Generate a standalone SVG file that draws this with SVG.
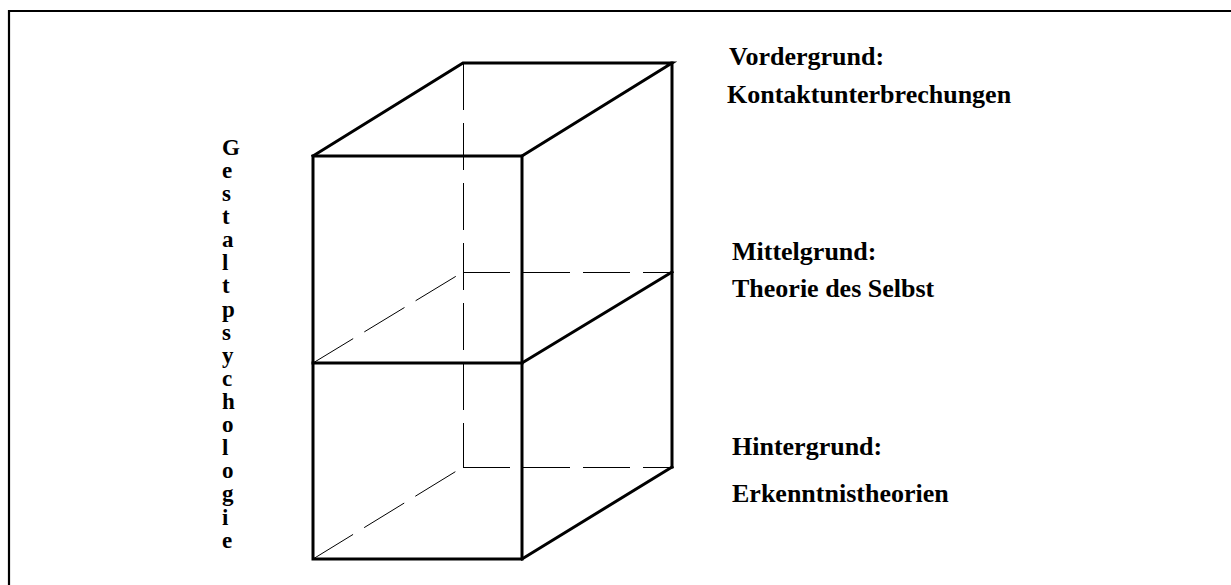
<svg xmlns="http://www.w3.org/2000/svg" width="1231" height="585" viewBox="0 0 1231 585">
<style>
.frame{fill:none;stroke:#000;stroke-width:2.2}
.solid{fill:none;stroke:#000;stroke-width:3;stroke-linejoin:miter;stroke-linecap:square}
.dash{fill:none;stroke:#000;stroke-width:1;stroke-dasharray:47 13}
.t{font-family:"Liberation Serif","Times New Roman",serif;font-weight:bold;font-size:26px;fill:#000}
.v{font-family:"Liberation Serif","Times New Roman",serif;font-weight:bold;font-size:23px;fill:#000}
</style>
<rect width="1231" height="585" fill="#fff"/>
<path class="frame" d="M9,590 L9,11 L1240,11"/>
<g id="connectors">
<line class="dash" x1="463.5" y1="63" x2="463.5" y2="467"/>
<line class="dash" x1="463" y1="272.5" x2="672" y2="272.5"/>
<line class="dash" x1="463" y1="467.5" x2="672" y2="467.5"/>
<line class="dash" x1="313" y1="363" x2="463" y2="272"/>
<line class="dash" x1="313" y1="559" x2="463" y2="467"/>
</g>
<g id="cube">
<rect class="solid" x="313" y="156" width="209" height="403"/>
<line class="solid" x1="313" y1="363" x2="522" y2="363"/>
<path class="solid" d="M313,156 L463,63 L672,63 L522,156"/>
<line class="solid" x1="672" y1="63" x2="672" y2="467"/>
<line class="solid" x1="522" y1="559" x2="672" y2="467"/>
<line class="solid" x1="522" y1="363" x2="672" y2="272"/>
</g>
<g id="label-vordergrund">
<text class="t" x="729" y="65">Vordergrund:</text>
<text class="t" x="727" y="103">Kontaktunterbrechungen</text>
</g>
<g id="label-mittelgrund">
<text class="t" x="732" y="260">Mittelgrund:</text>
<text class="t" x="732" y="297">Theorie des Selbst</text>
</g>
<g id="label-hintergrund">
<text class="t" x="732" y="455">Hintergrund:</text>
<text class="t" x="732" y="502">Erkenntnistheorien</text>
</g>
<g id="label-gestaltpsychologie">
<text class="v" x="222" y="155"><tspan x="222" y="155">G</tspan><tspan x="222" y="178">e</tspan><tspan x="222" y="201">s</tspan><tspan x="222" y="224">t</tspan><tspan x="222" y="247">a</tspan><tspan x="222" y="270">l</tspan><tspan x="222" y="293">t</tspan><tspan x="222" y="317">p</tspan><tspan x="222" y="340">s</tspan><tspan x="222" y="363">y</tspan><tspan x="222" y="386">c</tspan><tspan x="222" y="409">h</tspan><tspan x="222" y="432">o</tspan><tspan x="222" y="455">l</tspan><tspan x="222" y="478">o</tspan><tspan x="222" y="501">g</tspan><tspan x="222" y="525">i</tspan><tspan x="222" y="548">e</tspan></text>
</g>
</svg>
